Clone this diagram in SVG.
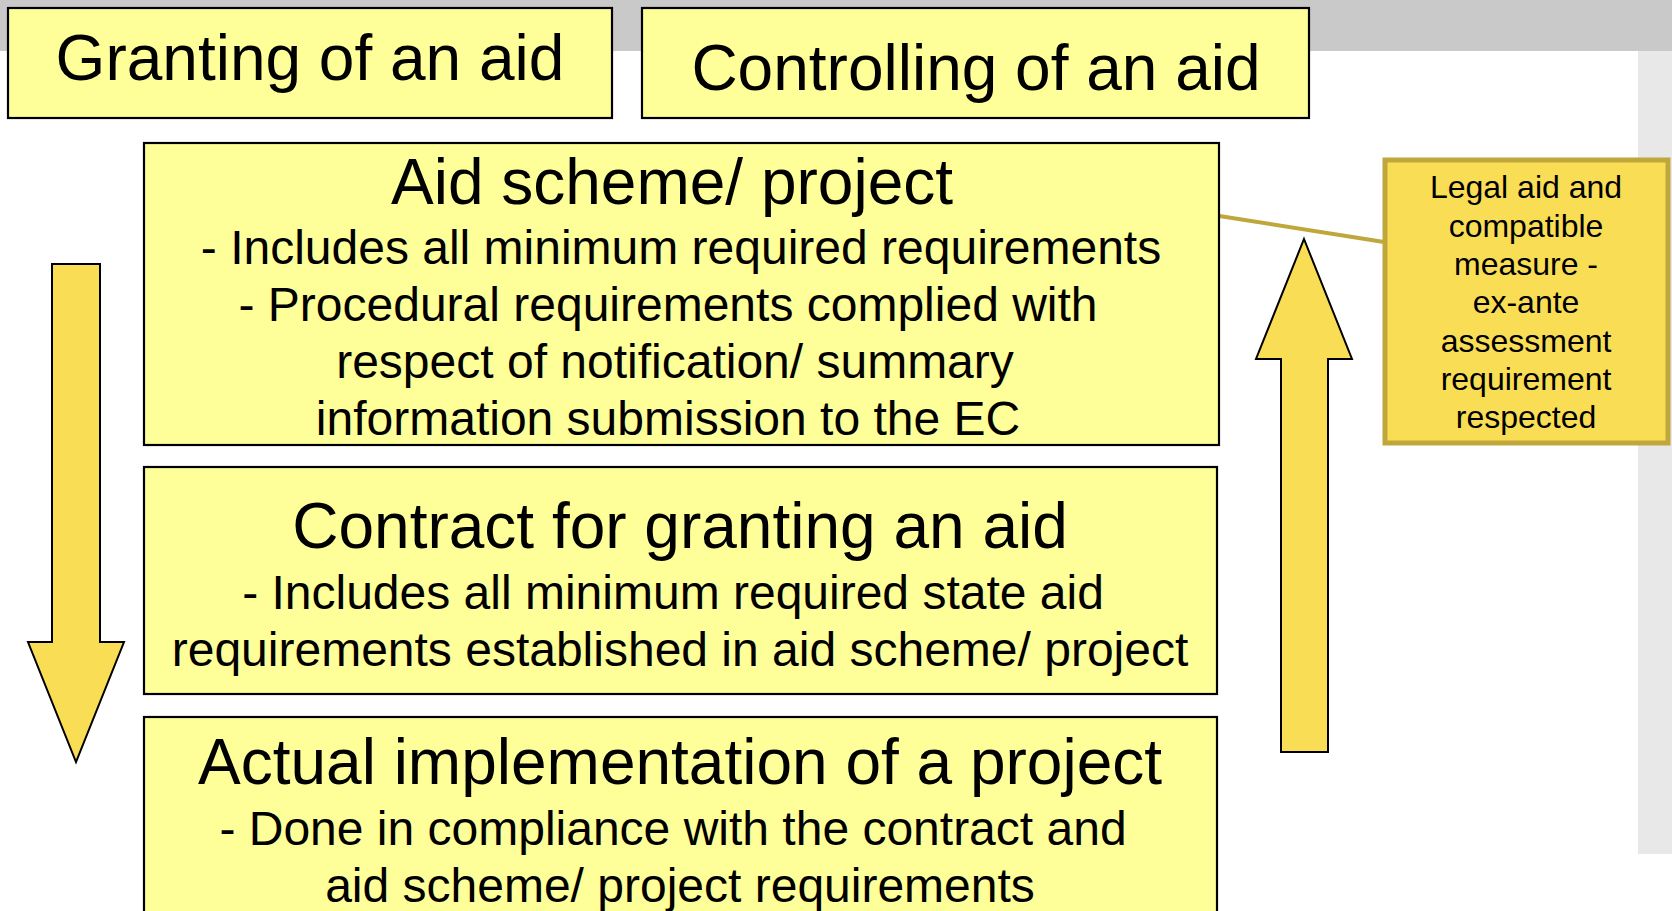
<svg xmlns="http://www.w3.org/2000/svg" width="1672" height="911" viewBox="0 0 1672 911">
  <style>
    .box { fill: #ffff99; stroke: #000; stroke-width: 2.2; }
    .arrow { fill: #f9de55; stroke: #000; stroke-width: 2; stroke-linejoin: miter; }
    .note { fill: #f9de55; stroke: #bfa73c; stroke-width: 5; }
    .conn { stroke: #bfa73c; stroke-width: 4; fill: none; }
    text { font-family: "Liberation Sans", Arial, sans-serif; fill: #000; text-anchor: middle; }
    .h { font-size: 64px; }
    .b { font-size: 48px; }
    .s { font-size: 32px; }
  </style>
  <rect x="0" y="0" width="1672" height="911" fill="#ffffff"/>
  <rect x="0" y="0" width="1672" height="51" fill="#c9c9c9"/>
  <rect x="1638" y="51" width="34" height="803" fill="#e8e8e8"/>

  <g id="granting">
    <rect class="box" x="8" y="8" width="604" height="110"/>
    <text class="h" x="310" y="80">Granting of an aid</text>
  </g>
  <g id="controlling">
    <rect class="box" x="642" y="8" width="667" height="110"/>
    <text class="h" x="976" y="90">Controlling of an aid</text>
  </g>

  <g id="connectors">
    <line class="conn" x1="1213" y1="215" x2="1384" y2="242"/>
  </g>

  <g id="aid-scheme">
    <rect class="box" x="144" y="143" width="1075" height="302"/>
    <text class="h" x="672" y="204">Aid scheme/ project</text>
    <text class="b" x="681" y="264">- Includes all minimum required requirements</text>
    <text class="b" x="668" y="321">- Procedural requirements complied with</text>
    <text class="b" x="675" y="378">respect of notification/ summary</text>
    <text class="b" x="668" y="435">information submission to the EC</text>
  </g>

  <g id="contract">
    <rect class="box" x="144" y="467" width="1073" height="227"/>
    <text class="h" x="680" y="548">Contract for granting an aid</text>
    <text class="b" x="673" y="609">- Includes all minimum required state aid</text>
    <text class="b" x="680" y="666">requirements established in aid scheme/ project</text>
  </g>

  <g id="implementation">
    <rect class="box" x="144" y="717" width="1073" height="220"/>
    <text class="h" x="680" y="784">Actual implementation of a project</text>
    <text class="b" x="673" y="845">- Done in compliance with the contract and</text>
    <text class="b" x="680" y="902">aid scheme/ project requirements</text>
  </g>

  <g id="arrow-down">
    <polygon class="arrow" points="52,264 100,264 100,642 124,642 76,762 28,642 52,642"/>
  </g>

  <g id="arrow-up">
    <polygon class="arrow" points="1304,239 1352,359 1328,359 1328,752 1281,752 1281,359 1256,359"/>
  </g>

  <g id="legal-note">
    <rect class="note" x="1385" y="160" width="283" height="283"/>
    <text class="s" x="1526" y="198">Legal aid and</text>
    <text class="s" x="1526" y="237">compatible</text>
    <text class="s" x="1526" y="275">measure -</text>
    <text class="s" x="1526" y="313">ex-ante</text>
    <text class="s" x="1526" y="352">assessment</text>
    <text class="s" x="1526" y="390">requirement</text>
    <text class="s" x="1526" y="428">respected</text>
  </g>
</svg>
